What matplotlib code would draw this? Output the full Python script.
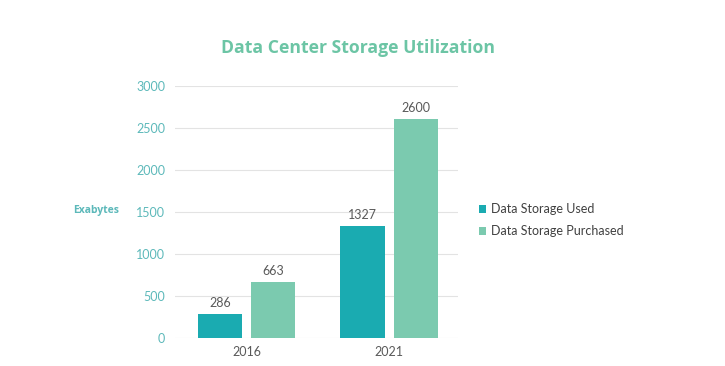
import numpy as np
import matplotlib.pyplot as plt

# Data
years = ['2016', '2021']
used = [286, 1327]
purchased = [663, 2600]
series_names = ['Data Storage Used', 'Data Storage Purchased']

col_used = '#1AABB1'
col_purch = '#7BCAAF'
tick_col = '#5DB9BA'
label_col = '#595959'

plt.rcParams['font.family'] = ['Lato', 'DejaVu Sans']

fig = plt.figure(figsize=(7.25, 3.66), dpi=100)
ax = fig.add_axes([0.241, 0.0765, 0.391, 0.689])

x = np.arange(len(years))
w = 0.31
off = 0.187
b1 = ax.bar(x - off, used, w, color=col_used, label=series_names[0], zorder=3)
b2 = ax.bar(x + off, purchased, w, color=col_purch, label=series_names[1], zorder=3)

for bars in (b1, b2):
    for r in bars:
        ax.text(r.get_x() + r.get_width() / 2, r.get_height() + 60, f'{int(r.get_height())}',
                ha='center', va='bottom', fontsize=9, color=label_col)

ax.set_xlim(-0.507, 1.486)
ax.set_ylim(0, 3000)
ax.set_yticks(np.arange(0, 3001, 500))
ax.set_xticks(x)
ax.set_xticklabels(years)
ax.yaxis.grid(True, color='#E3E3E3', linewidth=0.8, zorder=0)
ax.tick_params(axis='y', length=0, colors=tick_col, labelsize=9, pad=7)
ax.tick_params(axis='x', length=0, colors=label_col, labelsize=9, pad=6)
for s in ax.spines.values():
    s.set_visible(False)

fig.text(0.494, 0.87, 'Data Center Storage Utilization', ha='center', va='center',
         fontsize=12.7, fontweight='bold', color='#6CC5A5', family=['Open Sans', 'DejaVu Sans'])
fig.text(0.132, 0.426, 'Exabytes', ha='center', va='center', fontsize=7.5,
         fontweight='bold', color=tick_col, family=['Open Sans', 'DejaVu Sans'])

fig.legend(loc='upper left', bbox_to_anchor=(0.645, 0.475), frameon=False,
           fontsize=9, labelcolor='#404040', handlelength=0.6, handleheight=0.6,
           handletextpad=0.4, labelspacing=0.8)

fig.savefig('out.png', dpi=100, facecolor='white')
